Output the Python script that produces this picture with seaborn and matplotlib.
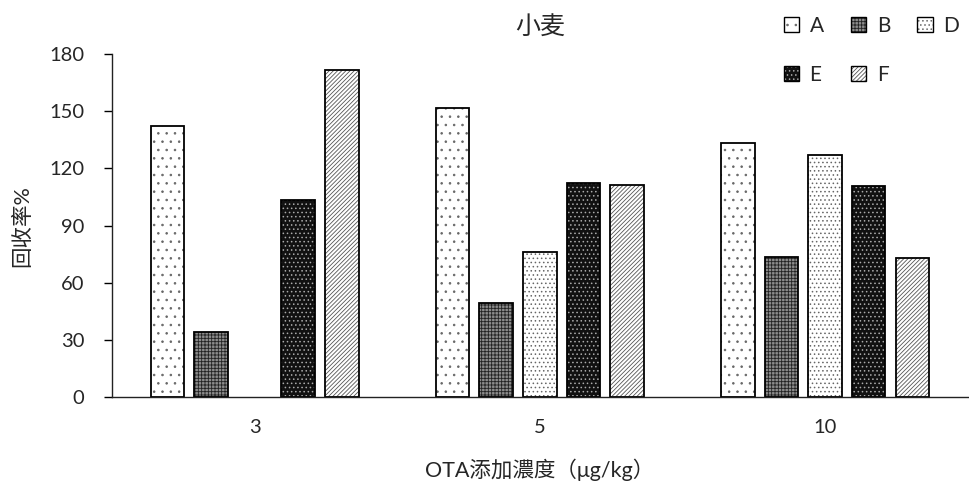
import matplotlib
matplotlib.use("Agg")
import matplotlib.pyplot as plt
from matplotlib.patches import Patch
import seaborn as sns
import pandas as pd

concentrations = ["3", "5", "10"]
samples = ["A", "B", "D", "E", "F"]
vals_A = [142.2, 151.6, 133.3]
vals_B = [34.1, 49.3, 73.5]
vals_D = [0.0, 76.1, 127.0]
vals_E = [103.4, 112.3, 110.7]
vals_F = [171.6, 111.2, 72.9]
yticks = [0, 30, 60, 90, 120, 150, 180]

series = {"A": vals_A, "B": vals_B, "D": vals_D, "E": vals_E, "F": vals_F}
rows = []
for s in samples:
    for c, v in zip(concentrations, series[s]):
        rows.append({"conc": c, "sample": s, "value": v})
df = pd.DataFrame(rows)

sns.set_style("white")
plt.rcParams["font.family"] = ["Lato", "Noto Sans CJK SC", "DejaVu Sans"]
plt.rcParams["hatch.linewidth"] = 0.6

fig = plt.figure(figsize=(9.69, 4.92), dpi=100)
ax = fig.add_axes([0.1156, 0.193, 0.883, 0.697])

sns.barplot(data=df, x="conc", y="value", hue="sample", order=concentrations,
            hue_order=samples, width=0.765, gap=0.23, legend=False, ax=ax,
            edgecolor="black", linewidth=1.3)

styles = {
    "A": dict(face="white", hatch="..", hcolor="#666666"),
    "B": dict(face="#8c8c8c", hatch="+++++", hcolor="#222222"),
    "D": dict(face="white", hatch="....", hcolor="#666666"),
    "E": dict(face="#111111", hatch="....", hcolor="#aaaaaa"),
    "F": dict(face="white", hatch="////////", hcolor="#555555"),
}

def style_patch(p, st):
    p.set_facecolor(st["face"])
    p.set_hatch(st["hatch"])
    p.set_edgecolor("black")
    p._hatch_color = matplotlib.colors.to_rgba(st["hcolor"])

for s, cont in zip(samples, ax.containers):
    for p in cont.patches:
        style_patch(p, styles[s])
        if p.get_height() == 0:
            p.set_visible(False)

ax.set_ylim(0, 180)
ax.set_yticks(yticks)
ax.set_yticklabels([str(t) for t in yticks], fontsize=14.5)
ax.tick_params(axis="y", length=6, width=1, color="black", left=True, pad=14)
ax.tick_params(axis="x", length=0, labelsize=14.5, pad=16)
for sp in ["top", "right"]:
    ax.spines[sp].set_visible(False)
for sp in ["left", "bottom"]:
    ax.spines[sp].set_color("#222222")
    ax.spines[sp].set_linewidth(1)

ax.set_xlabel("OTA添加濃度（μg/kg）", fontsize=15.5, labelpad=16)
ax.set_ylabel("回收率%", fontsize=15.5, labelpad=12)
ax.set_title("小麦", fontsize=18, pad=14)

handles_all = []
for s in samples:
    h = Patch(linewidth=1.0)
    style_patch(h, styles[s])
    handles_all.append(h)
order_idx = [0, 3, 1, 4, 2]
handles = [handles_all[i] for i in order_idx]
labels = [samples[i] for i in order_idx]
leg = ax.legend(handles, labels, ncol=3, frameon=False, fontsize=15,
                loc="upper left", bbox_to_anchor=(0.8, 0.985),
                bbox_transform=fig.transFigure, handlelength=0.75,
                handleheight=0.75, handletextpad=0.5, columnspacing=1.3,
                labelspacing=1.4, borderaxespad=0)

fig.savefig("out.png", dpi=100)
